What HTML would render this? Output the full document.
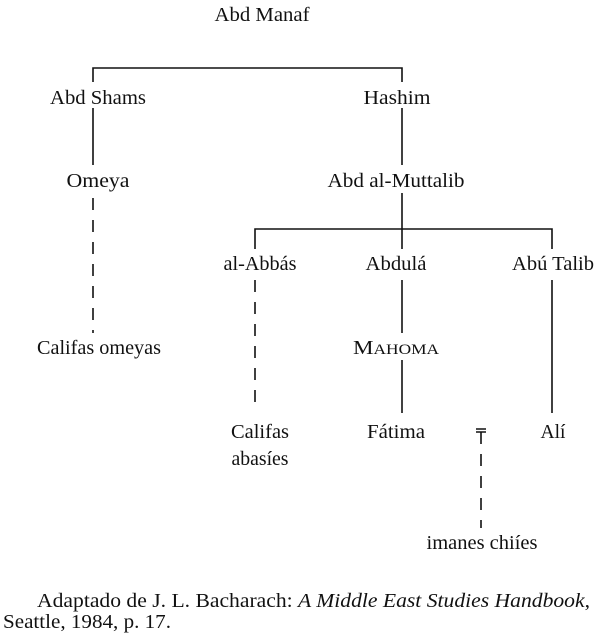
<!DOCTYPE html>
<html><head><meta charset="utf-8"><style>
html,body{margin:0;padding:0;background:#fff;}
svg{display:block;}
text{font-family:"Liberation Serif",serif;font-size:20px;fill:#111;}
</style></head><body>
<svg width="600" height="641" viewBox="0 0 600 641" xmlns="http://www.w3.org/2000/svg">
<g stroke="#111" stroke-width="1.6" fill="none">
<path d="M93 82 V68 H402 V82"/>
<path d="M93 108 V165"/>
<path d="M402 108 V165"/>
<path d="M93 198 V333" stroke-dasharray="12 10"/>
<path d="M402 193 V249"/>
<path d="M255 249 V229 H552 V249"/>
<path d="M255 280 V410" stroke-dasharray="12 10"/>
<path d="M402 280 V333"/>
<path d="M402 360 V413"/>
<path d="M552 280 V413"/>
<path d="M476 429 H486 M476 432 H486"/>
<path d="M481 432 V528" stroke-dasharray="12 10"/>
</g>
<text x="262" y="21" text-anchor="middle" textLength="95" lengthAdjust="spacingAndGlyphs">Abd Manaf</text>
<text x="98" y="104" text-anchor="middle" textLength="96" lengthAdjust="spacingAndGlyphs">Abd Shams</text>
<text x="397" y="104" text-anchor="middle" textLength="67" lengthAdjust="spacingAndGlyphs">Hashim</text>
<text x="98" y="187" text-anchor="middle" textLength="63" lengthAdjust="spacingAndGlyphs">Omeya</text>
<text x="396" y="187" text-anchor="middle" textLength="137" lengthAdjust="spacingAndGlyphs">Abd al-Muttalib</text>
<text x="260" y="270" text-anchor="middle" textLength="73" lengthAdjust="spacingAndGlyphs">al-Abbás</text>
<text x="396" y="270" text-anchor="middle" textLength="61" lengthAdjust="spacingAndGlyphs">Abdulá</text>
<text x="553" y="270" text-anchor="middle" textLength="82" lengthAdjust="spacingAndGlyphs">Abú Talib</text>
<text x="99" y="354" text-anchor="middle" textLength="124" lengthAdjust="spacingAndGlyphs">Califas omeyas</text>
<text x="396" y="354" text-anchor="middle" textLength="86" lengthAdjust="spacingAndGlyphs">M<tspan font-size="15">AHOMA</tspan></text>
<text x="260" y="438" text-anchor="middle" textLength="58" lengthAdjust="spacingAndGlyphs">Califas</text>
<text x="260" y="465" text-anchor="middle" textLength="57" lengthAdjust="spacingAndGlyphs">abasíes</text>
<text x="396" y="438" text-anchor="middle" textLength="58" lengthAdjust="spacingAndGlyphs">Fátima</text>
<text x="553" y="438" text-anchor="middle" textLength="25" lengthAdjust="spacingAndGlyphs">Alí</text>
<text x="482" y="549" text-anchor="middle" textLength="111" lengthAdjust="spacingAndGlyphs">imanes chiíes</text>
<text x="37" y="607" textLength="553" lengthAdjust="spacingAndGlyphs">Adaptado de J. L. Bacharach: <tspan font-style="italic">A Middle East Studies Handbook</tspan>,</text>
<text x="3" y="628" textLength="168" lengthAdjust="spacingAndGlyphs">Seattle, 1984, p. 17.</text>
</svg>
</body></html>
